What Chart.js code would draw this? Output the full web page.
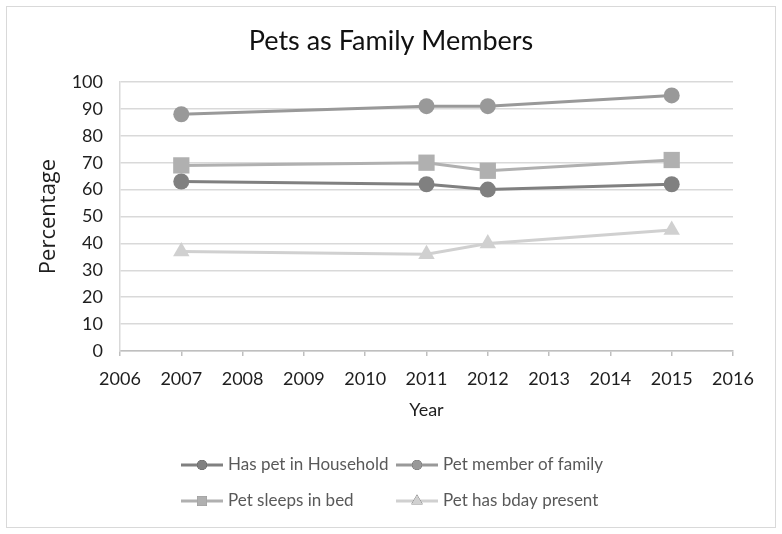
<!DOCTYPE html>
<html lang="en">

<head>
  <meta charset="UTF-8" />
  <title>Pets as Family Members</title>
  <script src="https://cdn.jsdelivr.net/npm/chart.js"></script>
  <style>
    body {
      margin: 0;
      background: #fff;
    }

    .moldura {
      position: absolute;
      left: 6px;
      top: 6px;
      width: 768px;
      height: 520px;
      border: 1px solid #d9d9d9;
    }
  </style>
</head>

<body>
  <div class="moldura">
    <canvas id="grafico" width="768" height="520"></canvas>
  </div>

  <script>
    // valores
    const anos = [2007, 2011, 2012, 2015];
    const temPet = [63, 62, 60, 62];
    const membroFamilia = [88, 91, 91, 95];
    const dormeNaCama = [69, 70, 67, 71];
    const presenteAniversario = [37, 36, 40, 45];

    const titulo = "Pets as Family Members";
    const nomes = ["Has pet in Household", "Pet member of family", "Pet sleeps in bed", "Pet has bday present"];
    const cores = ["#808080", "#999999", "#b0b0b0", "#d0d0d0"];
    const estilos = ["circle", "circle", "rect", "triangle"];
    const raios = [8, 8, 11.5, 9.5];
    const raiosLegenda = [5, 5, 7, 6.5];

    const xMin = 2006, xMax = 2016, xPasso = 1;
    const yMin = 0, yMax = 100, yPasso = 10;

    function pontos(valores) {
      return anos.map((ano, i) => ({ x: ano, y: valores[i] }));
    }

    const series = [temPet, membroFamilia, dormeNaCama, presenteAniversario];

    Chart.defaults.font.family = "Lato";

    // titulo centrado no canvas todo + legenda em grade 2x2
    const legendaGrade = {
      id: "legendaGrade",
      afterDraw(chart) {
        const ctx = chart.ctx;

        ctx.save();
        ctx.fillStyle = "#111";
        ctx.font = "27px Lato";
        ctx.textAlign = "center";
        ctx.textBaseline = "middle";
        ctx.fillText(titulo, chart.width / 2, 34);
        ctx.restore();

        const colunas = [174, 389];
        const linhas = [458, 494];
        chart.data.datasets.forEach((ds, i) => {
          const x = colunas[i % 2];
          const y = linhas[Math.floor(i / 2)];
          ctx.save();
          ctx.strokeStyle = ds.borderColor;
          ctx.lineWidth = 3;
          ctx.beginPath();
          ctx.moveTo(x, y);
          ctx.lineTo(x + 42, y);
          ctx.stroke();
          Chart.helpers.drawPoint(ctx, {
            pointStyle: ds.pointStyle,
            radius: raiosLegenda[i],
            borderWidth: 0,
            rotation: 0
          }, x + 21, y);
          ctx.fillStyle = ds.borderColor;
          ctx.fill();
          ctx.fillStyle = "#595959";
          ctx.font = "17px Lato";
          ctx.textBaseline = "middle";
          ctx.textAlign = "left";
          ctx.fillText(ds.label, x + 47, y);
          ctx.restore();
        });
      }
    };

    const config = {
      type: "line",
      data: {
        datasets: series.map((valores, i) => ({
          label: nomes[i],
          data: pontos(valores),
          borderColor: cores[i],
          backgroundColor: cores[i],
          borderWidth: 3,
          pointStyle: estilos[i],
          pointRadius: raios[i],
          pointHoverRadius: raios[i],
          pointBorderWidth: 0,
          pointBackgroundColor: cores[i],
          tension: 0
        }))
      },
      options: {
        responsive: false,
        animation: false,
        layout: {
          padding: { left: 0, right: 42, top: 75, bottom: 100 }
        },
        scales: {
          x: {
            type: "linear",
            min: xMin,
            max: xMax,
            ticks: {
              stepSize: xPasso,
              color: "#1e1e1e",
              font: { size: 18 },
              padding: 12,
              maxRotation: 0,
              callback: (v) => String(v)
            },
            grid: {
              drawOnChartArea: false,
              drawTicks: true,
              tickLength: 5,
              color: "#bfbfbf",
              lineWidth: 1.5
            },
            border: { display: true, color: "#bfbfbf", width: 1.5 },
            title: {
              display: true,
              text: "Year",
              color: "#1e1e1e",
              font: { size: 18 },
              padding: { top: 4, bottom: 6 }
            },
            afterFit: (escala) => { escala.height = 76; }
          },
          y: {
            min: yMin,
            max: yMax,
            ticks: {
              stepSize: yPasso,
              color: "#1e1e1e",
              font: { size: 18 },
              padding: 17
            },
            grid: {
              color: "#d9d9d9",
              lineWidth: 1.5,
              drawTicks: false
            },
            border: { display: true, color: "#d9d9d9", width: 1.5 },
            title: {
              display: true,
              text: "Percentage",
              color: "#1e1e1e",
              font: { family: "'Open Sans', 'Noto Sans', sans-serif", size: 22 },
              padding: { top: 29, bottom: 0 }
            },
            afterFit: (escala) => { escala.width = 113; }
          }
        },
        plugins: {
          legend: { display: false },
          tooltip: { enabled: false },
          title: { display: false }
        }
      },
      plugins: [legendaGrade]
    };

    const grafico = new Chart(document.getElementById("grafico"), config);
  </script>
</body>

</html>
